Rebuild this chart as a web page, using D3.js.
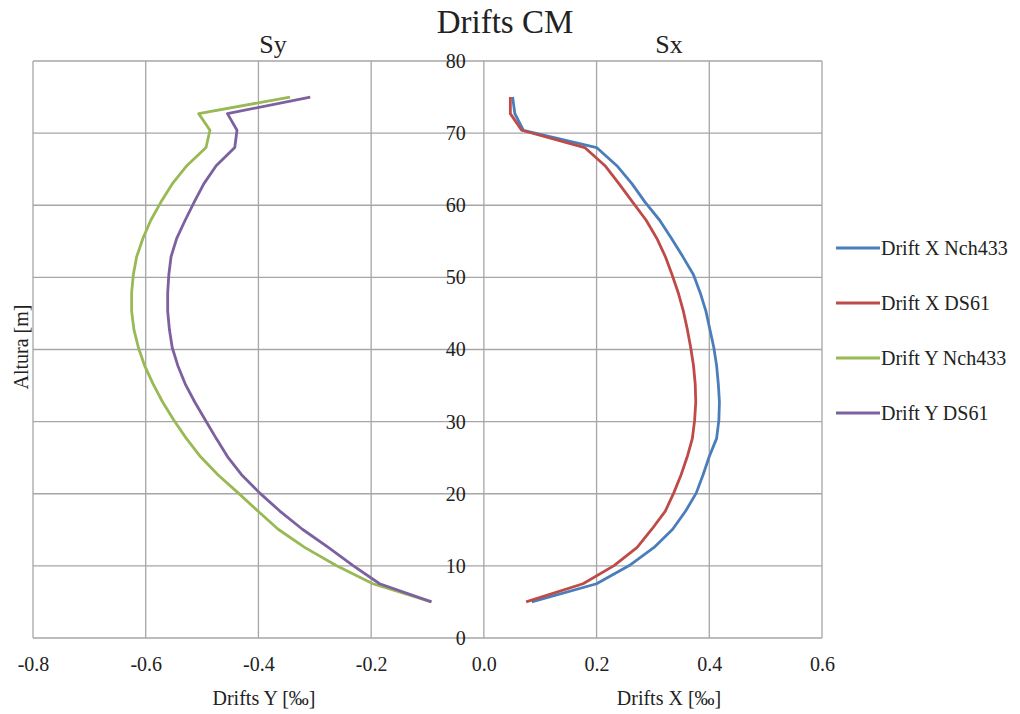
<!DOCTYPE html>
<html>
<head>
<meta charset="utf-8">
<script src="https://cdnjs.cloudflare.com/ajax/libs/d3/7.8.5/d3.min.js"></script>
<style>
    body { margin: 0; background: #fff; }
    svg text { font-family: "Liberation Serif", Tinos, "DejaVu Serif", serif; fill: #222; }
</style>
</head>
<body>
<svg width="1020" height="714"></svg>
<script>
// storey heights [m]
var heights = [5, 7.52, 10.04, 12.56, 15.08, 17.6, 20.12, 22.64, 25.16, 27.68, 30.2, 32.72, 35.24, 37.76,
    40.28, 42.8, 45.32, 47.84, 50.36, 52.88, 55.4, 57.92, 60.44, 62.96, 65.48, 68, 70.4, 72.7, 75];

var driftXNch433 = [0.085, 0.200, 0.258, 0.302, 0.335, 0.358, 0.377, 0.389, 0.400, 0.413, 0.417, 0.418, 0.416, 0.413,
    0.408, 0.401, 0.394, 0.384, 0.372, 0.353, 0.333, 0.312, 0.286, 0.263, 0.236, 0.200, 0.070, 0.055, 0.051];
var driftXDS61 = [0.075, 0.176, 0.231, 0.272, 0.298, 0.322, 0.337, 0.350, 0.361, 0.370, 0.374, 0.376, 0.375, 0.372,
    0.367, 0.361, 0.354, 0.345, 0.334, 0.322, 0.307, 0.288, 0.264, 0.240, 0.215, 0.179, 0.067, 0.047, 0.047];
var driftYNch433 = [-0.093, -0.197, -0.262, -0.318, -0.365, -0.401, -0.436, -0.472, -0.503, -0.528, -0.550, -0.570, -0.587, -0.602,
    -0.613, -0.621, -0.625, -0.625, -0.622, -0.616, -0.605, -0.591, -0.573, -0.553, -0.527, -0.493, -0.486, -0.506, -0.344];
var driftYDS61 = [-0.093, -0.185, -0.232, -0.276, -0.322, -0.362, -0.398, -0.430, -0.455, -0.475, -0.494, -0.513, -0.530, -0.543,
    -0.553, -0.558, -0.561, -0.561, -0.559, -0.555, -0.545, -0.530, -0.514, -0.497, -0.475, -0.442, -0.438, -0.455, -0.308];

var seriesNames = ["Drift X Nch433", "Drift X DS61", "Drift Y Nch433", "Drift Y DS61"];
var seriesColors = ["#4a7ebb", "#be4b48", "#98b954", "#7d60a0"];
var seriesValues = [driftXNch433, driftXDS61, driftYNch433, driftYDS61];

var xTicksY = [-0.8, -0.6, -0.4, -0.2, 0.0];
var xTicksX = [0.2, 0.4, 0.6];
var yTicks = [0, 10, 20, 30, 40, 50, 60, 70, 80];

var svg = d3.select("svg");
var gridColor = "#a6a6a6";
var serif = "'Liberation Serif', Tinos, 'DejaVu Serif', serif";

// one continuous x scale: left panel -0.8..0, right panel 0..0.6
var xScale = d3.scaleLinear().domain([-0.8, 0.6]).range([33, 822]);
var yScale = d3.scaleLinear().domain([0, 80]).range([638, 61]);

function drawGrid() {
    var grid = svg.append("g").attr("class", "grid");
    grid.selectAll(".vline")
        .data(xTicksY.concat(xTicksX))
        .enter().append("line")
        .attr("x1", function (d) { return xScale(d); })
        .attr("x2", function (d) { return xScale(d); })
        .attr("y1", yScale(0))
        .attr("y2", yScale(80))
        .attr("stroke", gridColor)
        .attr("stroke-width", 1.3);
    grid.selectAll(".hline")
        .data(yTicks)
        .enter().append("line")
        .attr("x1", xScale(-0.8))
        .attr("x2", xScale(0.6))
        .attr("y1", function (d) { return yScale(d); })
        .attr("y2", function (d) { return yScale(d); })
        .attr("stroke", gridColor)
        .attr("stroke-width", 1.3);
}

function drawAxes() {
    var fmt = d3.format(".1f");
    var xAxis = d3.axisBottom(xScale)
        .tickValues(xTicksY.concat(xTicksX))
        .tickFormat(function (d) { return fmt(d).replace("\u2212", "-"); })
        .tickSize(0)
        .tickPadding(19);
    var gx = svg.append("g")
        .attr("transform", "translate(0," + yScale(0) + ")")
        .attr("font-family", serif)
        .call(xAxis);
    gx.select(".domain").remove();
    gx.selectAll("text")
        .style("font-size", "20px")
        .attr("fill", "#222");

    var yAxis = d3.axisLeft(yScale)
        .tickValues(yTicks)
        .tickSize(0)
        .tickPadding(18);
    var gy = svg.append("g")
        .attr("transform", "translate(" + xScale(0) + ",0)")
        .attr("font-family", serif)
        .call(yAxis);
    gy.select(".domain").remove();
    gy.selectAll("text")
        .style("font-size", "20px")
        .attr("fill", "#222");
}

function drawSeries() {
    var line = d3.line()
        .x(function (d) { return xScale(d.v); })
        .y(function (d) { return yScale(d.h); });
    seriesValues.forEach(function (vals, i) {
        var pts = vals.map(function (v, j) { return {v: v, h: heights[j]}; });
        svg.append("path")
            .datum(pts)
            .attr("d", line)
            .attr("fill", "none")
            .attr("stroke", seriesColors[i])
            .attr("stroke-width", 2.8)
            .attr("stroke-linejoin", "round");
    });
}

function drawTitles() {
    svg.append("text")
        .attr("x", 505).attr("y", 33)
        .attr("text-anchor", "middle")
        .style("font-size", "33px")
        .text("Drifts CM");
    svg.append("text")
        .attr("x", 273).attr("y", 53)
        .attr("text-anchor", "middle")
        .style("font-size", "26px")
        .text("Sy");
    svg.append("text")
        .attr("x", 669).attr("y", 53)
        .attr("text-anchor", "middle")
        .style("font-size", "26px")
        .text("Sx");
    svg.append("text")
        .attr("x", 264).attr("y", 705)
        .attr("text-anchor", "middle")
        .style("font-size", "20px")
        .text("Drifts Y [‰]");
    svg.append("text")
        .attr("x", 669).attr("y", 705)
        .attr("text-anchor", "middle")
        .style("font-size", "20px")
        .text("Drifts X [‰]");
    svg.append("text")
        .attr("transform", "translate(28,347) rotate(-90)")
        .attr("text-anchor", "middle")
        .style("font-size", "20px")
        .text("Altura [m]");
}

function drawLegend() {
    var legend = svg.append("g").attr("class", "legend");
    var items = legend.selectAll("g")
        .data(seriesNames)
        .enter().append("g")
        .attr("transform", function (d, i) { return "translate(836," + (248 + i * 55) + ")"; });
    items.append("line")
        .attr("x1", 0).attr("x2", 44)
        .attr("stroke", function (d, i) { return seriesColors[i]; })
        .attr("stroke-width", 2.8);
    items.append("text")
        .attr("x", 45).attr("y", 7)
        .style("font-size", "20px")
        .text(function (d) { return d; });
}

drawGrid();
drawAxes();
drawSeries();
drawTitles();
drawLegend();
</script>
</body>
</html>
